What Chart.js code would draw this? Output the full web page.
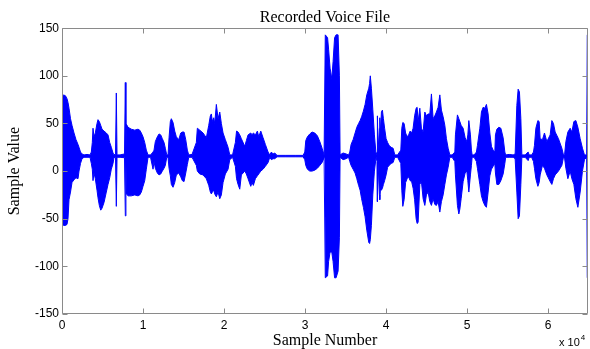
<html>
<head>
<meta charset="UTF-8">
<title>Recorded Voice File</title>
<script src="https://cdn.jsdelivr.net/npm/chart.js"></script>
<style>
  body { margin: 0; background: #fff; }
  #wrap { position: relative; width: 590px; height: 349px; }
</style>
</head>
<body>
<div id="wrap"><canvas id="voiceChart"></canvas></div>

<script>
// envelope of the waveform (sample number, top value, bottom value)
var samples = [
  0,185,432,618,741,865,1050,1235,1482,1729,1976,2100,2285,2470,
  2717,3088,3458,
  3619,3742,3829,3952,4113,4323,4446,4607,4780,4940,5187,5471,5681,5891,6089,6299,6422,6608,
  6706,6793, 7163,7719, 7818,7892,
  7966,8151,8559,8978,9386,9596,9794,10004,10213,10411,10621,
  10930,
  11239,11362,11523,11770,11980,12190,12387,12597,12758,12930,
  13091,
  13215,13375,13499,13709,13918,14116,14412,14660,14857,15067,15277,15475,15647,
  16055,
  16586,16710,17006,17414,17821,18117,18315,18439,18562,18735,18858,19056,19266,19476,19674,19884,20168,20501,20711,
  21057,
  21403,21551,21736,21946,22144,22564,22761,22971,23304,23465,23626,23873,24120,24292,24540,24824,25108,25441,25651,25849,
  26059,26268,
  26553,27541,28776,29764,
  29974,30097,30295,30591,30875,31208,31530,31826,32110,32357,
  32443,32505,32789,32913,33098,33308,33469,33654,33839,34086,34247,34333,
  34704,35074,35383,
  35531,35692,35939,36186,36396,36618,36803,36988,37211,37421,37630,37877,37976,38063,38198,38371,38569,38779,
  38903,38940,39026,39187,39236,39311,39434,39558,39681,39830,40014,40200,40385,40632,40879,41089,
  41434,
  41829,41953,42076,42237,42422,42608,42793,42978,43163,43349,
  43534,43719,43843,43966,44176,44374,44584,44793,44991,45201,
  45411,45609,45819,46028,46226,46436,46646,46844,47054,47264,
  47462,47672,47881,
  48165,
  48499,48573,48820,48993,49116,49277,49524,49771,49981,50104,50228,50425,50549,50635,
  50882,
  51166,51290,51586,51784,51994,52204,52401,52611,52821,53019,53229,53438,
  53513,53686,53933,54180,54464,54674,54773,
  55205,55699,
  55946,56155,56316,56477,56650,56773,
  57181,57551,57675,57983,
  58208,58331,58504,58751,58911,59034,59318,59565,59861,60268,60478,60676,60886,61293,61713,61911,
  62059,62207,62454,62738,62948,63195,63442,63689,63973,64257,64504,64776,64850,64940
];
var upper = [
  78,80,79,76,72,66,55,48,40,33,28,25,20,18,
  17,17.5,17,
  20,30,45,36,40,50,54,52,48,44,42,40,38,30,25,19,17,18,
  82,17, 17,18, 93,20,
  49,46,44,43,44,43,40,36,30,22,17,
  17,
  20,22,31,36,39,38,34,30,24,17,
  17,
  35,52,55,51,42,36,33,40,41,41,33,22,17,
  17.5,
  30,45,43,40,35,48,58,60,52,56,50,70,55,62,50,40,33,25,17,
  17,
  30,42,41,38,34,26,32,38,40,38,40,38,42,36,42,35,28,20,17,20,
  18,19,
  16.5,16.5,16.5,16.5,
  20,32,36,39,41,40,37,31,24,17,
  17,143,140,128,108,97,115,140,143,143,100,17,
  19,18,17,
  20,28,33,40,46,50,53,57,63,70,80,87,92,100,87,65,38,17,
  20,58,22,45,56,40,62,64,55,45,34,30,27,25,24,17,
  17,
  22,45,51,50,40,36,38,42,40,45,
  58,66,67,52,66,45,41,62,58,60,
  60,81,55,58,62,67,80,64,57,48,
  34,24,17,
  17,
  20,38,59,55,52,48,45,35,31,38,53,38,22,17,
  17,
  20,27,45,62,67,66,70,60,40,26,22,20,
  38,44,46,45,35,20,17,
  17.5,17,
  18,69,86,83,55,17,
  17,20,17,17,
  20,27,45,53,52,34,33,40,31,38,53,50,41,34,24,17,
  18,31,41,45,41,52,53,46,34,24,17,17,143,143
];
var lower = [
  -55,-57,-57,-56,-50,-30,-22,-12,-9,-7,-8,0,8,13,
  14.5,14.5,14.5,
  8,2,-10,-2,-8,-20,-28,-36,-41,-39,-33,-22,-14,-7,2,8,14.5,14,
  -37,14.5, 14.5,14, -47,10,
  -24,-26,-26,-25,-26,-25,-22,-16,-10,2,14.5,
  14.5,
  2,10,3,-2,-4,-3,0,3,6,14.5,
  14.5,
  3,-5,-14,-17,-12,-4,-2,-6,-10,-11,-2,7,14.5,
  14.5,
  6,0,-3,-4,-8,-15,-22,-24,-22,-20,-24,-27,-22,-29,-25,-12,-3,2,12,
  14.5,
  5,-8,-14,-19,-4,0,-3,-8,-16,-12,-15,-8,-5,-3,0,2,5,9,14.5,12,
  13,13,
  15,15,15,15,
  12,6,2,0,0,1,3,6,9,14.5,
  14.5,-112,-110,-95,-85,-85,-95,-112,-112,-105,-70,14.5,
  12,13,14.5,
  10,6,2,-2,-8,-15,-20,-29,-38,-48,-62,-75,-76,-72,-57,-25,0,14.5,
  10,-32,8,-25,-30,-20,-20,-18,-14,-10,-4,4,6,8,9,14.5,
  14.5,
  8,-20,-37,-30,-12,-8,-6,-10,-11,-18,
  -30,-50,-55,-54,-14,-11,-29,-36,-25,-22,
  -32,-36,-29,-35,-36,-32,-43,-32,-25,-14,
  -4,4,14.5,
  14.5,
  10,-4,-36,-45,-40,-29,-11,-2,0,-10,-22,-4,6,14.5,
  14.5,
  10,3,-14,-26,-32,-36,-38,-22,-5,2,5,8,
  -2,-14,-14,-10,-3,8,14.5,
  14.5,14.5,
  13,-22,-50,-47,-14,14.5,
  14.5,11,14.5,14.5,
  10,3,-8,-16,-12,-4,6,3,-4,-11,-14,-8,-4,0,6,14.5,
  13,3,-8,0,-8,-14,-29,-38,-22,0,12,14.5,-112,-112
];

var xTicks = [0, 10000, 20000, 30000, 40000, 50000, 60000];
var yTicks = [-150, -100, -50, 0, 50, 100, 150];

var waveColour = "#0000ff";
var axisColour = "#8a8a8a";

// matlab style box with ticks pointing inwards, plus the x10^4 note
var boxPlugin = {
  id: 'matlabBox',
  afterDraw: function(chart) {
    var ctx = chart.ctx;
    var a = chart.chartArea;
    var xs = chart.scales.x, ys = chart.scales.y;
    var l = Math.round(a.left) + 0.5, r = Math.round(a.right) - 0.5;
    var t = Math.round(a.top) + 0.5, b = Math.round(a.bottom) - 0.5;
    ctx.save();
    ctx.strokeStyle = axisColour;
    ctx.lineWidth = 1;
    ctx.beginPath();
    ctx.rect(l, t, r - l, b - t);
    xTicks.forEach(function(v) {
      var px = Math.round(xs.getPixelForValue(v)) + 0.5;
      ctx.moveTo(px, b); ctx.lineTo(px, b - 5);
      ctx.moveTo(px, t); ctx.lineTo(px, t + 5);
    });
    yTicks.forEach(function(v) {
      var py = Math.round(ys.getPixelForValue(v)) + 0.5;
      ctx.moveTo(l, py); ctx.lineTo(l + 5, py);
      ctx.moveTo(r, py); ctx.lineTo(r - 5, py);
    });
    ctx.stroke();

    ctx.fillStyle = "#000";
    ctx.textBaseline = 'alphabetic';
    ctx.font = '11px "Liberation Sans", Arial, sans-serif';
    ctx.fillText('x 10', 559, 346);
    var w = ctx.measureText('x 10').width;
    ctx.font = '8px "Liberation Sans", Arial, sans-serif';
    ctx.fillText('4', 559 + w + 1, 340);
    ctx.restore();
  }
};

function initChart()
{
  var topData = samples.map(function(s, i) { return {x: s, y: upper[i]}; });
  var bottomData = samples.map(function(s, i) { return {x: s, y: lower[i]}; });

  var ctx = document.getElementById('voiceChart').getContext('2d');
  chart = new Chart(ctx, {
    type: 'line',
    data: {
      datasets: [{
        label: "top",
        data: topData,
        borderColor: waveColour,
        backgroundColor: waveColour,
        borderWidth: 1,
        pointRadius: 0,
        tension: 0,
        fill: '+1'
      }, {
        label: "bottom",
        data: bottomData,
        borderColor: waveColour,
        backgroundColor: waveColour,
        borderWidth: 1,
        pointRadius: 0,
        tension: 0,
        fill: false
      }]
    },
    options: {
      responsive: true,
      maintainAspectRatio: false,
      animation: false,
      layout: { padding: { left: 0, right: 2, top: 0, bottom: 0 } },
      plugins: {
        legend: { display: false },
        tooltip: { enabled: false },
        title: {
          display: true,
          text: 'Recorded Voice File',
          fullSize: false,
          color: '#000',
          font: { family: '"Liberation Serif", "Times New Roman", serif', size: 16, weight: 'normal' },
          padding: { top: 8, bottom: 1 }
        }
      },
      scales: {
        x: {
          type: 'linear',
          min: 0,
          max: 64940,
          afterBuildTicks: function(scale) {
            scale.ticks = xTicks.map(function(v) { return {value: v}; });
          },
          afterFit: function(scale) { scale.height = 35; },
          grid: { display: false, drawTicks: false },
          border: { display: false },
          ticks: {
            color: '#000',
            padding: 4,
            maxRotation: 0,
            autoSkip: false,
            font: { family: '"Liberation Sans", Arial, sans-serif', size: 12 },
            callback: function(v) { return v / 10000; }
          },
          title: {
            display: true,
            text: 'Sample Number',
            color: '#000',
            font: { family: '"Liberation Serif", "Times New Roman", serif', size: 16 },
            padding: { top: 0, bottom: -1 }
          }
        },
        y: {
          min: -150,
          max: 150,
          afterBuildTicks: function(scale) {
            scale.ticks = yTicks.map(function(v) { return {value: v}; });
          },
          afterFit: function(scale) { scale.width = 62; },
          grid: { display: false, drawTicks: false },
          border: { display: false },
          ticks: {
            color: '#000',
            padding: 3,
            font: { family: '"Liberation Sans", Arial, sans-serif', size: 12 }
          },
          title: {
            display: true,
            text: 'Sample Value',
            color: '#000',
            font: { family: '"Liberation Serif", "Times New Roman", serif', size: 16 },
            padding: { top: 5, bottom: 0 }
          }
        }
      }
    },
    plugins: [boxPlugin]
  });
}

window.onload = initChart;
</script>
</body>
</html>
